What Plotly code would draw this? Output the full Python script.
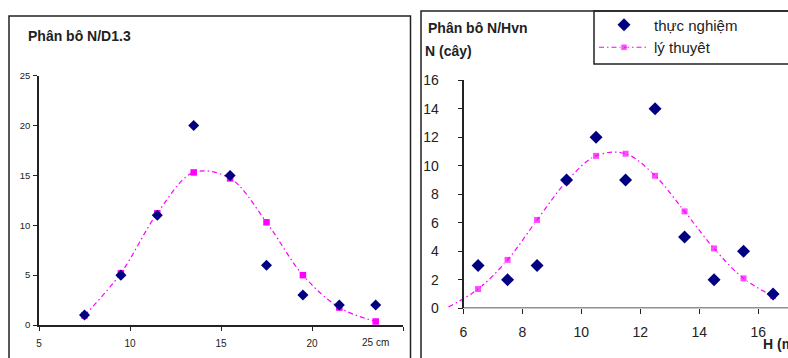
import plotly.graph_objects as go

# ---- data: left panel (N / D1.3) ----
d_x = [7.5, 9.5, 11.5, 13.5, 15.5, 17.5, 19.5, 21.5, 23.5]
d_obs = [1, 5, 11, 20, 15, 6, 3, 2, 2]
d_theo = [0.95, 5.2, 11.2, 15.3, 14.7, 10.3, 5.0, 1.75, 0.35]
d_ticks = [5, 10, 15, 20, 25]
d_ticktext = ["5", "10", "15", "20", ""]

# ---- data: right panel (N / Hvn) ----
h_x = [6.5, 7.5, 8.5, 9.5, 10.5, 11.5, 12.5, 13.5, 14.5, 15.5, 16.5]
h_obs = [3, 2, 3, 9, 12, 9, 14, 5, 2, 4, 1]
h_theo_x = [5.5, 6.5, 7.5, 8.5, 9.5, 10.5, 11.5, 12.5, 13.5, 14.5, 15.5, 16.5]
h_theo = [0.1, 1.35, 3.4, 6.2, 8.9, 10.7, 10.85, 9.3, 6.8, 4.2, 2.1, 0.85]

W, H = 788, 358
NAVY = "#000080"
MAG = "#FF00FF"
INK = "#222222"
DASH = "5px,3px,1.5px,3px"
FONT = "Liberation Sans, Arial, sans-serif"

def px(x):
    return x / W

def py(y):
    return (H - y) / H

fig = go.Figure()

# left panel
fig.add_trace(go.Scatter(x=d_x, y=d_theo, mode="lines+markers", xaxis="x", yaxis="y",
                         line=dict(color=MAG, width=1.2, dash=DASH, shape="spline"),
                         marker=dict(symbol="square", size=6.5, color=MAG),
                         cliponaxis=False, showlegend=False))
fig.add_trace(go.Scatter(x=d_x, y=d_obs, mode="markers", xaxis="x", yaxis="y",
                         marker=dict(symbol="diamond", size=8.5, color=NAVY, line=dict(width=0)),
                         cliponaxis=False, showlegend=False))

# right panel
sizes = [0] + [7] * (len(h_theo_x) - 1)
fig.add_trace(go.Scatter(x=h_theo_x, y=h_theo, mode="lines+markers", xaxis="x2", yaxis="y2",
                         line=dict(color=MAG, width=1.2, dash=DASH, shape="spline"),
                         marker=dict(symbol="square", size=sizes, color=MAG),
                         cliponaxis=False, name="lý thuyêt", legendrank=2))
fig.add_trace(go.Scatter(x=h_x, y=h_obs, mode="markers", xaxis="x2", yaxis="y2",
                         marker=dict(symbol="diamond", size=10, color=NAVY, line=dict(width=0)),
                         cliponaxis=False, name="thực nghiệm", legendrank=1))

axis_common = dict(showgrid=False, zeroline=False, ticks="outside", tickcolor=INK,
                   linecolor=INK, linewidth=1.5, tickwidth=1.2, automargin=False)

fig.update_layout(
    width=W, height=H, autosize=False,
    margin=dict(l=0, r=0, t=0, b=0, pad=0, autoexpand=False),
    paper_bgcolor="white", plot_bgcolor="rgba(0,0,0,0)",
    font=dict(family=FONT, color=INK),
    xaxis=dict(domain=[px(39), px(403)], range=[5, 25], tickvals=d_ticks, ticktext=d_ticktext,
               anchor="y", showline=True, ticklen=4, ticklabelstandoff=4,
               tickfont=dict(size=10, color=INK), **axis_common),
    yaxis=dict(domain=[py(325), py(75.7)], range=[0, 25], tickvals=[0, 5, 10, 15, 20, 25],
               anchor="x", showline=True, ticklen=4, ticklabelstandoff=1,
               tickfont=dict(size=9.5, color=INK), **axis_common),
    xaxis2=dict(domain=[px(445.6), 1], range=[5.4, 17.007], tickvals=[6, 8, 10, 12, 14, 16],
                anchor="y2", showline=False, ticklen=5, ticklabelstandoff=6,
                tickfont=dict(size=14, color=INK), **axis_common),
    yaxis2=dict(domain=[py(308.3), py(80.3)], range=[0, 16], tickvals=[0, 2, 4, 6, 8, 10, 12, 14, 16],
                anchor="free", position=px(463.3), showline=True, ticklen=5, ticklabelstandoff=16,
                tickfont=dict(size=14, color=INK), **axis_common),
    legend=dict(x=px(594), y=py(8.5), xanchor="left", yanchor="top", itemwidth=50,
                bgcolor="rgba(0,0,0,0)", borderwidth=0,
                font=dict(size=15, color=INK, family=FONT), tracegroupgap=0),
)

# x axis line of right panel starts at x = 6
fig.add_shape(type="line", xref="x2", yref="y2", x0=6, x1=17.5, y0=0, y1=0,
              line=dict(color=INK, width=1.5))

# panel frames and legend box
fig.add_shape(type="rect", xref="paper", yref="paper", x0=px(9), x1=px(410.5), y0=-0.1, y1=py(16),
              line=dict(color=INK, width=1.5))
fig.add_shape(type="rect", xref="paper", yref="paper", x0=px(421), x1=1.1, y0=-0.1, y1=py(11),
              line=dict(color=INK, width=1.5))
fig.add_shape(type="rect", xref="paper", yref="paper", x0=px(594), x1=1.1, y0=py(64), y1=py(11),
              line=dict(color=INK, width=1.5))

def note(text, x, y, size, bold=False, anchor="left"):
    fig.add_annotation(text=f"<b>{text}</b>" if bold else text, xref="paper", yref="paper",
                       x=px(x), y=py(y), xanchor=anchor, yanchor="middle", showarrow=False,
                       font=dict(size=size, color=INK, family=FONT))

note("Phân bô N/D1.3", 26, 35.5, 14, bold=True)
note("Phân bô N/Hvn", 426, 28, 14, bold=True)
note("N (cây)", 423, 51, 14, bold=True)
note("25 cm", 375, 342.5, 10, anchor="center")
note("H (m)", 761, 344, 14, bold=True)

fig.write_html("out.html", config={"displayModeBar": False},
               post_script="document.body.style.margin='0';document.body.style.overflow='hidden';")
